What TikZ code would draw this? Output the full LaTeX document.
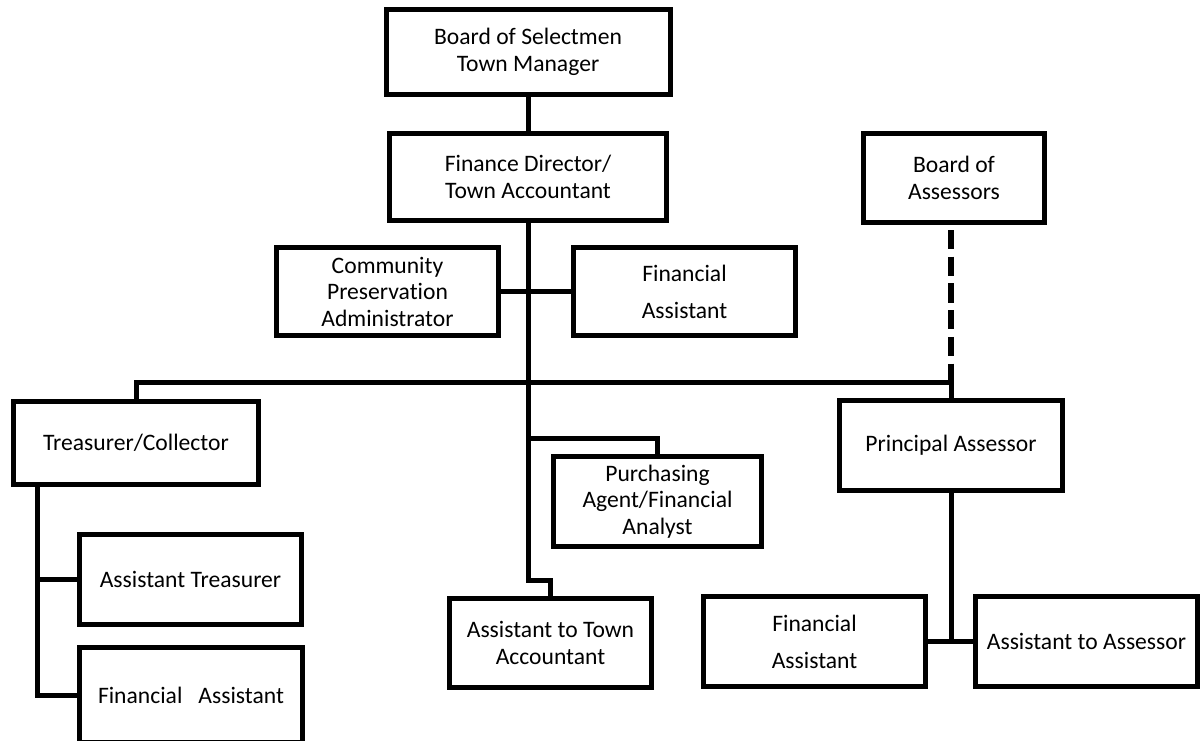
\documentclass[tikz,border=0pt]{standalone}
\usepackage{fontspec}
\setmainfont{Carlito}[Ligatures=NoCommon]
\begin{document}
\begin{tikzpicture}[x=1pt,y=-1pt,
  box/.style={draw=black,line width=5pt,fill=white,inner sep=0pt,align=center,
    font=\fontsize{23.6}{26.5}\selectfont},
  widebox/.style={box,font=\fontsize{23.6}{37}\selectfont},
  conn/.style={draw=black,line width=5pt,line join=miter},
  dashconn/.style={draw=black,line width=6pt,dash pattern=on 19.3pt off 7.4pt}]
\useasboundingbox (0,0) rectangle (1201,740);
\fill[white] (0,0) rectangle (1201,740);

% nodes
\node[box,minimum width=284,minimum height=85] (bos) at (528,52) {Board of Selectmen\\Town Manager};
\node[box,minimum width=277,minimum height=87] (fd) at (528,177) {Finance Director/\\Town Accountant};
\node[box,minimum width=222,minimum height=88] (cpa) at (387.5,291.5) {Community\\Preservation\\Administrator};
\node[widebox,minimum width=222,minimum height=88] (fa1) at (684.5,291.5) {Financial\\Assistant};
\node[box,minimum width=181,minimum height=89] (boa) at (954,178) {Board of\\Assessors};
\node[box,minimum width=245,minimum height=83] (tc) at (136,443) {Treasurer/Collector};
\node[box,minimum width=222,minimum height=90] (at) at (190.5,579.5) {Assistant Treasurer};
\node[box,minimum width=223,minimum height=95] (fa2) at (191,695) {Financial\ \ \ Assistant};
\node[box,minimum width=208,minimum height=90] (pa) at (657.5,501.5) {Purchasing\\Agent/Financial\\Analyst};
\node[box,minimum width=202,minimum height=89] (atta) at (550.5,643) {Assistant to Town\\Accountant};
\node[box,minimum width=223,minimum height=90] (prin) at (951,445.5) {Principal Assessor};
\node[widebox,minimum width=222,minimum height=90] (fa3) at (814.5,641.5) {Financial\\Assistant};
\node[box,minimum width=222,minimum height=90] (ata) at (1086.5,641.5) {Assistant to Assessor};

% coordinates
\coordinate (busR) at (951,382);
\coordinate (busL) at (136,382);
\coordinate (m1) at (528,580);
\coordinate (m2) at (528,438);
\coordinate (t0) at (37,483);
\coordinate (d0) at (951,230);

% connectors
\draw[conn] (bos.south) -- (fd.north);
\draw[conn] (fd.south) -- (m1) -| (atta.north);
\draw[conn] (cpa.east) -- (fa1.west);
\draw[conn] (tc.north) -- (busL) -- (busR) -- (prin.north);
\draw[dashconn] (d0) -- (busR);
\draw[conn] (m2) -| (pa.north);
\draw[conn] (t0) |- (fa2.west);
\draw[conn] (at.west -| t0) -- (at.west);
\draw[conn] (prin.south) -- (prin.south |- fa3.east);
\draw[conn] (fa3.east) -- (ata.west);
\end{tikzpicture}
\end{document}
